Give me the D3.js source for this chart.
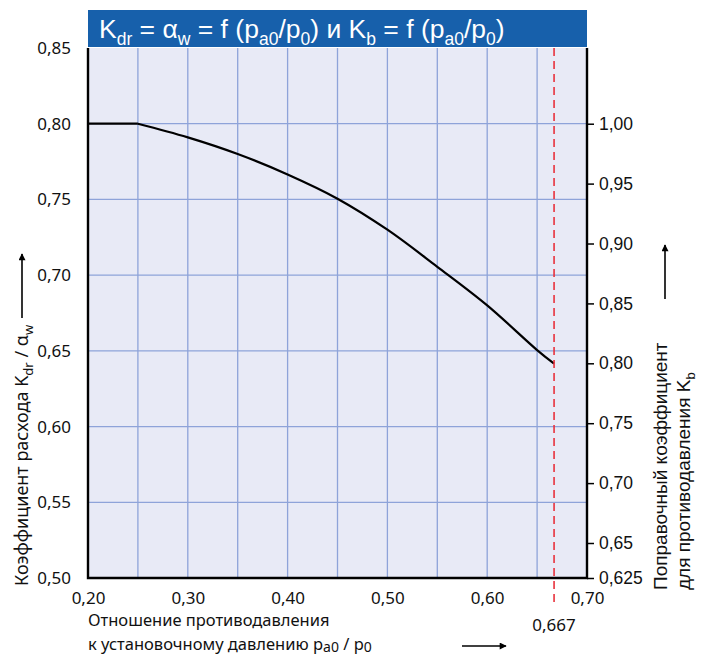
<!DOCTYPE html>
<html>
<head>
<meta charset="utf-8">
<script src="https://cdn.jsdelivr.net/npm/d3@7"></script>
<style>
  body { margin: 0; background: #fff; }
  svg { display: block; }
</style>
</head>
<body>
<div class="container"></div>
<script>
// data
const ratio = [0.20, 0.25, 0.30, 0.35, 0.40, 0.45, 0.50, 0.55, 0.60, 0.65, 0.667];
const kdr   = [0.800, 0.800, 0.791, 0.780, 0.7665, 0.7505, 0.730, 0.7055, 0.680, 0.6505, 0.6415];
const limitRatio = 0.667;

const xTicks = [0.20, 0.30, 0.40, 0.50, 0.60, 0.70];
const xGrid = [0.25, 0.30, 0.35, 0.40, 0.45, 0.50, 0.55, 0.60, 0.65];
const yTicks = [0.50, 0.55, 0.60, 0.65, 0.70, 0.75, 0.80, 0.85];
const yGrid = [0.55, 0.60, 0.65, 0.70, 0.75, 0.80];
const kbTicks = [0.625, 0.65, 0.70, 0.75, 0.80, 0.85, 0.90, 0.95, 1.00];

const W = 705, H = 657;
const pLeft = 88, pRight = 587, pTop = 48, pBottom = 578;

const svg = d3.select('.container')
  .append('svg')
  .attr('width', W)
  .attr('height', H);

const defs = svg.append('defs');
defs.append('marker')
  .attr('id', 'arr')
  .attr('viewBox', '0 0 10 10')
  .attr('refX', 9).attr('refY', 5)
  .attr('markerWidth', 9).attr('markerHeight', 7)
  .attr('markerUnits', 'userSpaceOnUse')
  .attr('orient', 'auto')
  .append('path')
  .attr('d', 'M0,0 L10,5 L0,10 Z')
  .attr('fill', '#000');

const x = d3.scaleLinear().domain([0.2, 0.7]).range([pLeft, pRight]);
const y = d3.scaleLinear().domain([0.5, 0.85]).range([pBottom, pTop]);
// right axis is not quite uniform in the original
const yR = d3.scaleLinear().domain([0.625, 0.65, 1.0]).range([pBottom, 543, y(0.8)]);

const loc = d3.formatLocale({decimal: ',', thousands: ' ', grouping: [3], currency: ['', '']});
const f2 = loc.format('.2f');
const f3 = loc.format('.3f');

// plot background
svg.append('rect')
  .attr('x', pLeft).attr('y', pTop)
  .attr('width', pRight - pLeft).attr('height', pBottom - pTop)
  .attr('fill', '#e8eaf6');

// grid
const grid = svg.append('g').attr('stroke', '#8ea3d9').attr('stroke-width', 1.3);
grid.selectAll('.vx').data(xGrid).join('line')
  .attr('x1', d => x(d)).attr('x2', d => x(d))
  .attr('y1', pTop).attr('y2', pBottom);
grid.selectAll('.hy').data(yGrid).join('line')
  .attr('x1', pLeft).attr('x2', pRight)
  .attr('y1', d => y(d)).attr('y2', d => y(d));

// title bar
svg.append('rect')
  .attr('x', pLeft).attr('y', 10)
  .attr('width', pRight - pLeft).attr('height', pTop - 11)
  .attr('fill', '#1760ab');

// parts: [text, isSubscript]
function richText(g, parts, size, subSize, k = 0.28) {
  const shift = size * k;
  let down = false;
  parts.forEach(p => {
    const t = g.append('tspan').text(p[0]);
    if (p[1]) {
      t.attr('font-size', subSize).attr('dy', down ? 0 : shift);
      down = true;
    } else if (down) {
      t.attr('dy', -shift);
      down = false;
    }
  });
}

const title = svg.append('text')
  .attr('x', 99).attr('y', 38)
  .attr('fill', '#fff')
  .attr('font-family', 'Liberation Sans, Arial, sans-serif')
  .attr('font-size', 26.5);
richText(title, [
  ['K'], ['dr', 1], [' = \u03b1'], ['w', 1], [' = f (p'], ['a0', 1], ['/p'], ['0', 1],
  [') и K'], ['b', 1], [' = f (p'], ['a0', 1], ['/p'], ['0', 1], [')']
], 26.5, 17.5);

// curve: flat part then falling part
svg.append('path')
  .attr('d', d3.line()([[x(ratio[0]), y(kdr[0])], [x(ratio[1]), y(kdr[1])]]))
  .attr('fill', 'none').attr('stroke', '#000').attr('stroke-width', 2.2);

const pts = ratio.map((r, i) => [r, kdr[i]]).slice(1);
svg.append('path')
  .attr('d', d3.line().x(d => x(d[0])).y(d => y(d[1])).curve(d3.curveCatmullRom)(pts))
  .attr('fill', 'none').attr('stroke', '#000').attr('stroke-width', 2.2);

// limit line
svg.append('line')
  .attr('x1', x(limitRatio)).attr('x2', x(limitRatio))
  .attr('y1', pTop).attr('y2', 607)
  .attr('stroke', '#e8323c').attr('stroke-width', 1.6)
  .attr('stroke-dasharray', '8,5');

// frame
svg.append('path')
  .attr('d', `M${pLeft},${pTop}V${pBottom}H${pRight}V${pTop}`)
  .attr('fill', 'none').attr('stroke', '#000').attr('stroke-width', 2.4);

const tickFont = 'Noto Sans, Open Sans, sans-serif';
const rFont = 'Liberation Sans, Arial, sans-serif';

// left axis
const gl = svg.append('g')
  .attr('transform', `translate(${pLeft},0)`)
  .call(d3.axisLeft(y).tickValues(yTicks).tickSize(0).tickPadding(17).tickFormat(f2));
gl.select('.domain').remove();
gl.selectAll('text').attr('font-family', tickFont).attr('font-size', 17).attr('fill', '#111');

// bottom axis
const gb = svg.append('g')
  .attr('transform', `translate(0,${pBottom})`)
  .call(d3.axisBottom(x).tickValues(xTicks).tickSize(0).tickPadding(14).tickFormat(f2));
gb.select('.domain').remove();
gb.selectAll('text').attr('font-family', tickFont).attr('font-size', 17).attr('fill', '#111');

svg.append('text')
  .attr('x', x(limitRatio)).attr('y', 631)
  .attr('text-anchor', 'middle')
  .attr('font-family', tickFont).attr('font-size', 17).attr('fill', '#111')
  .text(f3(limitRatio));

// right axis
const gr = svg.append('g')
  .attr('transform', `translate(${pRight},0)`)
  .call(d3.axisRight(yR).tickValues(kbTicks).tickSize(7).tickPadding(5)
    .tickFormat(d => d === 0.625 ? f3(d) : f2(d)));
gr.select('.domain').remove();
gr.selectAll('line').attr('stroke', '#000').attr('stroke-width', 1.5);
gr.selectAll('text').attr('font-family', rFont)
  .attr('font-size', 17.5).attr('fill', '#111');

// left axis title
const lt = svg.append('text')
  .attr('transform', 'translate(28,586) rotate(-90)')
  .attr('font-family', tickFont).attr('font-size', 18).attr('fill', '#111');
richText(lt, [['Коэффициент расхода K'], ['dr', 1], [' / \u03b1'], ['w', 1]], 18, 13);
svg.append('line')
  .attr('x1', 22).attr('x2', 22).attr('y1', 318).attr('y2', 254)
  .attr('stroke', '#000').attr('stroke-width', 1.6).attr('marker-end', 'url(#arr)');

// right axis title
svg.append('text')
  .attr('transform', 'translate(667,590) rotate(-90)')
  .attr('font-family', rFont).attr('font-size', 19).attr('fill', '#111')
  .text('Поправочный коэффициент');
const rt = svg.append('text')
  .attr('transform', 'translate(690,590) rotate(-90)')
  .attr('font-family', rFont).attr('font-size', 19).attr('fill', '#111');
richText(rt, [['для противодавления K'], ['b', 1]], 19, 13);
svg.append('line')
  .attr('x1', 665).attr('x2', 665).attr('y1', 299).attr('y2', 245)
  .attr('stroke', '#000').attr('stroke-width', 1.6).attr('marker-end', 'url(#arr)');

// bottom axis title
svg.append('text')
  .attr('x', 88).attr('y', 626)
  .attr('font-family', tickFont).attr('font-size', 16.5).attr('fill', '#111')
  .text('Отношение противодавления');
const bt = svg.append('text')
  .attr('x', 88).attr('y', 650)
  .attr('font-family', tickFont).attr('font-size', 16.5).attr('fill', '#111');
richText(bt, [['к установочному давлению p'], ['a0', 1], [' / p'], ['0', 1]], 16.5, 14, 0.1);
svg.append('line')
  .attr('x1', 462).attr('x2', 506).attr('y1', 646).attr('y2', 646)
  .attr('stroke', '#000').attr('stroke-width', 1.6).attr('marker-end', 'url(#arr)');
</script>
</body>
</html>
